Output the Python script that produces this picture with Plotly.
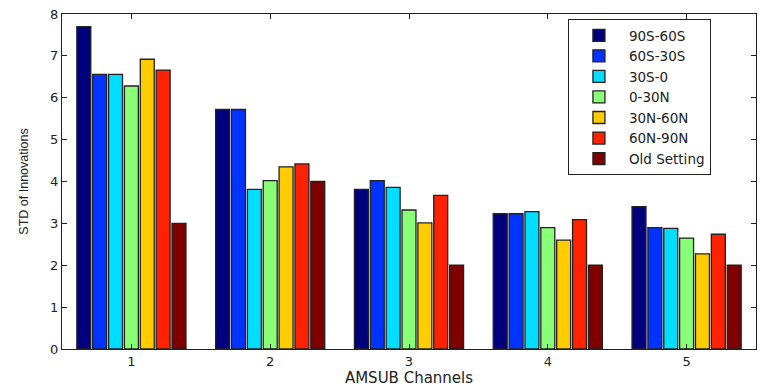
import plotly.graph_objects as go

channels = [1, 2, 3, 4, 5]
series_names = ["90S-60S", "60S-30S", "30S-0", "0-30N", "30N-60N", "60N-90N", "Old Setting"]
v_90s_60s = [7.70, 5.72, 3.81, 3.23, 3.40]
v_60s_30s = [6.56, 5.72, 4.02, 3.23, 2.90]
v_30s_0 = [6.56, 3.81, 3.86, 3.28, 2.88]
v_0_30n = [6.28, 4.02, 3.32, 2.90, 2.65]
v_30n_60n = [6.92, 4.35, 3.01, 2.60, 2.27]
v_60n_90n = [6.66, 4.42, 3.67, 3.09, 2.74]
v_old = [3.00, 4.00, 2.00, 2.00, 2.00]
colors = ["#00007f", "#0033ff", "#00ddff", "#88ff77", "#ffcc00", "#ff2200", "#7f0000"]

all_values = [v_90s_60s, v_60s_30s, v_30s_0, v_0_30n, v_30n_60n, v_60n_90n, v_old]

fig = go.Figure()
for name, vals, col in zip(series_names, all_values, colors):
    fig.add_trace(go.Bar(
        x=channels, y=vals, name=name,
        marker=dict(color=col, line=dict(color="#222222", width=1.3)),
    ))

wide_font = "DejaVu Sans, Verdana, sans-serif"
narrow_font = "Liberation Sans, Arial, Helvetica, sans-serif"
fig.update_layout(
    width=764, height=388,
    margin=dict(l=62, r=7, t=11, b=37),
    paper_bgcolor="white", plot_bgcolor="white",
    barmode="group", bargap=0.2, bargroupgap=0.12,
    font=dict(family=wide_font, size=13, color="#222222"),
    showlegend=True,
    legend=dict(
        x=0.729, y=0.985, xanchor="left", yanchor="top",
        bordercolor="#222222", borderwidth=1, bgcolor="white",
        font=dict(size=13.5, family=wide_font),
        tracegroupgap=0, itemwidth=50,
    ),
    xaxis=dict(
        range=[0.5, 5.5], tickvals=channels, ticktext=[str(c) for c in channels],
        ticks="inside", ticklen=5, tickcolor="#222222",
        showline=True, linecolor="#222222", linewidth=1, mirror="ticks",
        showgrid=False, zeroline=False,
        title=dict(text="AMSUB Channels", standoff=2, font=dict(size=15, family=wide_font)),
        tickfont=dict(size=13, family=wide_font),
    ),
    yaxis=dict(
        range=[0, 8], dtick=1,
        ticks="inside", ticklen=5, tickcolor="#222222",
        showline=True, linecolor="#222222", linewidth=1, mirror="ticks",
        showgrid=False, zeroline=False,
        title=dict(text="STD of Innovations", standoff=18, font=dict(size=12.5, family=narrow_font)),
        tickfont=dict(size=13, family=wide_font),
    ),
)

fig.write_html("out.html")
